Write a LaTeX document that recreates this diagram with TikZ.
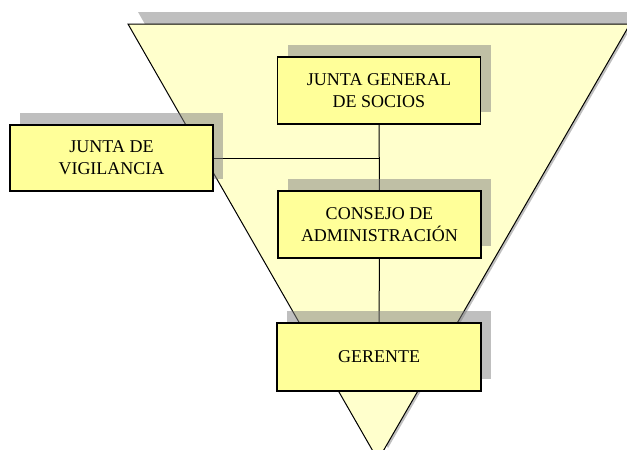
\documentclass[tikz,border=0pt]{standalone}
\usepackage{fontspec}
\setmainfont{Liberation Serif}
\usetikzlibrary{shadows}
\definecolor{tri}{HTML}{FFFFCC}
\definecolor{boxc}{HTML}{FFFF99}
\tikzset{
  shad/.style={drop shadow={shadow xshift=10pt, shadow yshift=12pt, fill=black!50, opacity=0.5}},
  orgbox/.style={draw=black, line width=1.1pt, fill=boxc, shad, align=center,
    minimum width=203pt, minimum height=67pt, inner sep=0pt,
    font=\fontsize{18}{22}\selectfont},
  conn/.style={draw=black, line width=1pt}
}
\begin{document}
\begin{tikzpicture}[x=1pt,y=-1pt]
\useasboundingbox (0,0) rectangle (627,450);
% inverted triangle
\path[fill=tri, draw=black, line width=1pt, shad] (128,24) coordinate (tl) -- (630,24) coordinate (tr) -- (378,460) coordinate (ap) -- cycle;
% nodes (placed, shadows drawn later via separate layer order)
\path (379,90.5) coordinate (pjg) (111.5,158) coordinate (pvg) (379.5,224.5) coordinate (pca) (379,357) coordinate (pge);
% invisible nodes for connector anchors
\node[minimum width=203pt, minimum height=67pt, inner sep=0pt] (jg0) at (pjg) {};
\node[minimum width=203pt, minimum height=66pt, inner sep=0pt] (vg0) at (pvg) {};
\node[minimum width=203pt, minimum height=67pt, inner sep=0pt] (ca0) at (pca) {};
\node[minimum width=204pt, minimum height=68pt, inner sep=0pt] (ge0) at (pge) {};
\coordinate (jn) at (vg0.east -| jg0.south);
% connectors
\draw[conn] (jg0.south) -- (ca0.north);
\draw[conn] (ca0.south) -- (ge0.north);
\draw[conn] (vg0.east) -- (jn);
% boxes
\node[orgbox] (jg) at (pjg) {JUNTA GENERAL\\DE SOCIOS};
\node[orgbox, minimum height=66pt] (vg) at (pvg) {JUNTA DE\\VIGILANCIA};
\node[orgbox] (ca) at (pca) {CONSEJO DE\\ADMINISTRACIÓN};
\node[orgbox, minimum width=204pt, minimum height=68pt] (ge) at (pge) {GERENTE};
\end{tikzpicture}
\end{document}
